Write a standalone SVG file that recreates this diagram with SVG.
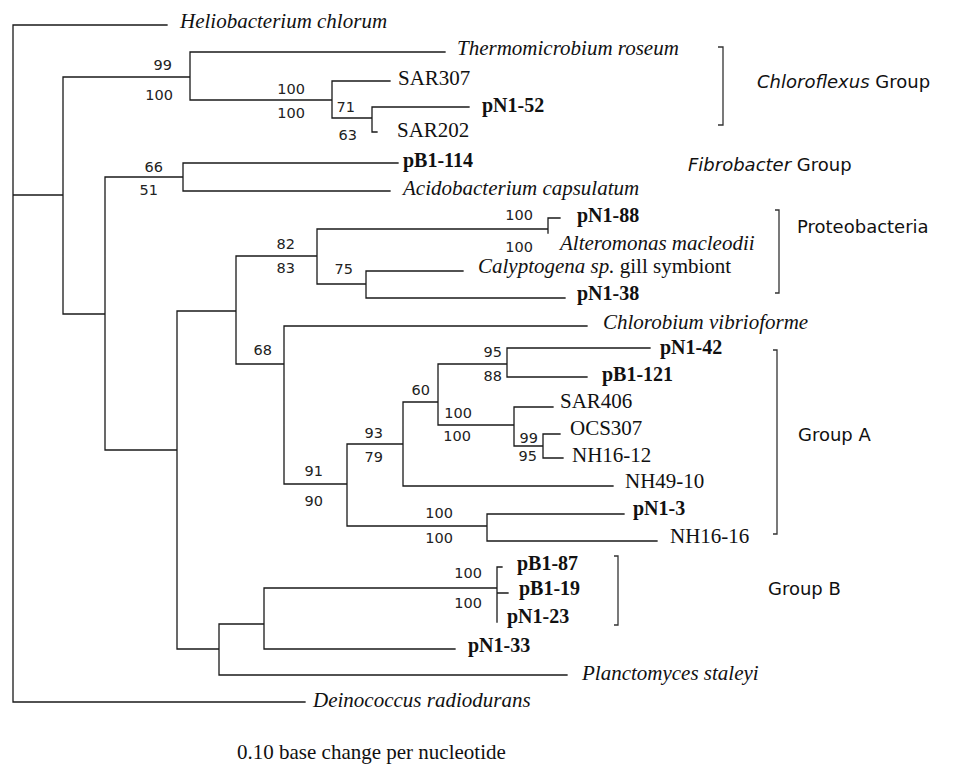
<svg xmlns="http://www.w3.org/2000/svg" width="954" height="764" viewBox="0 0 954 764">
<style>
.br{stroke:#1a1a1a;stroke-width:1.3;fill:none;stroke-linecap:square}
.bk{stroke:#333;stroke-width:1.3;fill:none}
.t{font-family:"Liberation Serif","Times New Roman",serif;font-size:21px;fill:#111}
.i{font-style:italic}
.b{font-weight:bold;font-size:20px}
.n{font-family:"DejaVu Sans","Liberation Sans",sans-serif;font-size:14.5px;fill:#222;text-anchor:end}
.g{font-family:"DejaVu Sans","Liberation Sans",sans-serif;font-size:18px;fill:#111}
</style>
<rect width="954" height="764" fill="#fff"/>
<g id="connectors">
<path class="br" d="M13,25V702 M13,25H167 M13,702H305 M13,195H63
M63,77V314 M63,77H190 M63,314H105
M190,52V100 M190,52H445 M190,100H332 M332,81V118 M332,81H390 M332,118H372 M372,107V132 M372,107H469 M372,132H377
M105,177V450 M105,177H183 M105,450H177 M183,163V191 M183,163H398 M183,191H390
M177,311V649 M177,311H236 M177,649H219
M236,256V364 M236,256H317 M236,364H284
M317,229V284 M317,229H548 M548,218V233 M548,218H560 M317,284H366 M366,271V298 M366,271H463 M366,298H565
M284,326V484 M284,326H587 M284,484H347
M347,444V526 M347,444H403 M347,526H487
M403,402V486 M403,402H438 M403,486H613
M438,364V425 M438,364H507 M438,425H514
M507,348V377 M507,348H650 M507,377H587
M514,407V446 M514,407H553 M514,446H543 M543,434V458 M543,434H560 M543,458H563
M487,514V541 M487,514H624 M487,541H657
M219,624V675 M219,624H264 M219,675H567 M264,588V649 M264,588H497 M264,649H455
M497,567V622 M497,567H502 M497,593H508"/>
</g>
<g id="brackets">
<path class="bk" d="M718,47H723V125H718"/>
<path class="bk" d="M775,210H779V293H775"/>
<path class="bk" d="M773,350H777V534H773"/>
<path class="bk" d="M614,556H618V625H614"/>
</g>
<g id="leaf-heliobacterium"><text class="t i" x="180" y="28">Heliobacterium chlorum</text></g>
<g id="leaf-thermomicrobium"><text class="t i" x="457" y="55">Thermomicrobium roseum</text></g>
<g id="leaf-sar307"><text class="t" x="398" y="85">SAR307</text></g>
<g id="leaf-pn1-52"><text class="t b" x="482" y="112">pN1-52</text></g>
<g id="leaf-sar202"><text class="t" x="397" y="137">SAR202</text></g>
<g id="leaf-pb1-114"><text class="t b" x="403" y="167">pB1-114</text></g>
<g id="leaf-acidobacterium"><text class="t i" x="403" y="195">Acidobacterium capsulatum</text></g>
<g id="leaf-pn1-88"><text class="t b" x="577" y="222">pN1-88</text></g>
<g id="leaf-alteromonas"><text class="t i" x="560" y="250">Alteromonas macleodii</text></g>
<g id="leaf-calyptogena"><text class="t" x="478" y="273"><tspan class="i">Calyptogena sp.</tspan> gill symbiont</text></g>
<g id="leaf-pn1-38"><text class="t b" x="577" y="300">pN1-38</text></g>
<g id="leaf-chlorobium"><text class="t i" x="603" y="329">Chlorobium vibrioforme</text></g>
<g id="leaf-pn1-42"><text class="t b" x="660" y="354">pN1-42</text></g>
<g id="leaf-pb1-121"><text class="t b" x="602" y="381">pB1-121</text></g>
<g id="leaf-sar406"><text class="t" x="560" y="408">SAR406</text></g>
<g id="leaf-ocs307"><text class="t" x="570" y="435">OCS307</text></g>
<g id="leaf-nh16-12"><text class="t" x="572" y="462">NH16-12</text></g>
<g id="leaf-nh49-10"><text class="t" x="625" y="488">NH49-10</text></g>
<g id="leaf-pn1-3"><text class="t b" x="633" y="515">pN1-3</text></g>
<g id="leaf-nh16-16"><text class="t" x="670" y="543">NH16-16</text></g>
<g id="leaf-pb1-87"><text class="t b" x="517" y="570">pB1-87</text></g>
<g id="leaf-pb1-19"><text class="t b" x="519" y="595">pB1-19</text></g>
<g id="leaf-pn1-23"><text class="t b" x="507" y="623">pN1-23</text></g>
<g id="leaf-pn1-33"><text class="t b" x="468" y="652">pN1-33</text></g>
<g id="leaf-planctomyces"><text class="t i" x="582" y="680">Planctomyces staleyi</text></g>
<g id="leaf-deinococcus"><text class="t i" x="313" y="707">Deinococcus radiodurans</text></g>
<g id="bootstrap">
<text class="n" x="172" y="70">99</text>
<text class="n" x="173" y="100">100</text>
<text class="n" x="305" y="94">100</text>
<text class="n" x="305" y="118">100</text>
<text class="n" x="355" y="112">71</text>
<text class="n" x="357" y="140">63</text>
<text class="n" x="163" y="172">66</text>
<text class="n" x="158" y="195">51</text>
<text class="n" x="295" y="249">82</text>
<text class="n" x="295" y="273">83</text>
<text class="n" x="353" y="274">75</text>
<text class="n" x="533" y="220">100</text>
<text class="n" x="533" y="252">100</text>
<text class="n" x="272" y="355">68</text>
<text class="n" x="502" y="357">95</text>
<text class="n" x="502" y="381">88</text>
<text class="n" x="430" y="395">60</text>
<text class="n" x="472" y="418">100</text>
<text class="n" x="471" y="441">100</text>
<text class="n" x="538" y="443">99</text>
<text class="n" x="537" y="461">95</text>
<text class="n" x="383" y="438">93</text>
<text class="n" x="383" y="462">79</text>
<text class="n" x="323" y="476">91</text>
<text class="n" x="323" y="506">90</text>
<text class="n" x="453" y="518">100</text>
<text class="n" x="453" y="543">100</text>
<text class="n" x="482" y="578">100</text>
<text class="n" x="482" y="608">100</text>
</g>
<g id="group-chloroflexus"><text class="g" x="757" y="88"><tspan font-style="italic">Chloroflexus</tspan> Group</text></g>
<g id="group-fibrobacter"><text class="g" x="688" y="171"><tspan font-style="italic">Fibrobacter</tspan> Group</text></g>
<g id="group-proteobacteria"><text class="g" x="797" y="233">Proteobacteria</text></g>
<g id="group-a"><text class="g" x="798" y="441">Group A</text></g>
<g id="group-b"><text class="g" x="768" y="595">Group B</text></g>
<g id="scale"><text class="t" x="237" y="759" font-size="20.5">0.10 base change per nucleotide</text></g>
</svg>
